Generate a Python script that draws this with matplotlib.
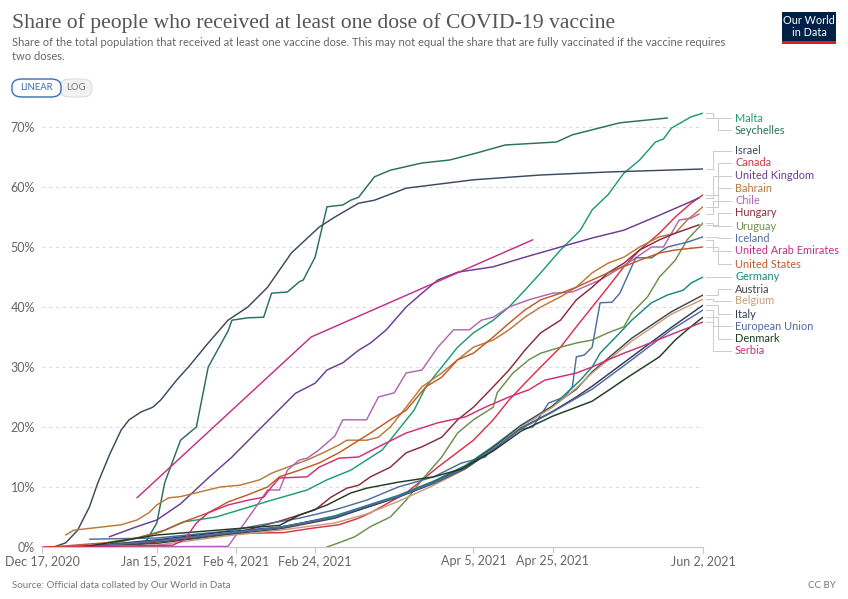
import matplotlib
matplotlib.use("Agg")
import matplotlib.pyplot as plt
import matplotlib.dates as mdates
from matplotlib.patches import FancyBboxPatch, Rectangle
from matplotlib.lines import Line2D
import pandas as pd

# ---------------- data (share of population, %) ----------------
malta = [("2020-12-27", 0), ("2021-01-02", 0.3), ("2021-01-10", 1.5), ("2021-01-17", 2.8), ("2021-01-22", 4.2),
         ("2021-01-30", 5.0), ("2021-02-05", 6.2), ("2021-02-13", 7.8), ("2021-02-22", 9.5), ("2021-02-27", 11.2),
         ("2021-03-02", 12.0), ("2021-03-05", 12.8), ("2021-03-09", 14.5), ("2021-03-13", 16.2), ("2021-03-17", 19.5),
         ("2021-03-21", 22.8), ("2021-03-24", 26.7), ("2021-03-28", 30.0), ("2021-04-01", 33.3), ("2021-04-05", 35.7),
         ("2021-04-10", 37.8), ("2021-04-14", 40.0), ("2021-04-18", 42.8), ("2021-04-22", 45.7), ("2021-04-27", 49.5),
         ("2021-05-02", 52.8), ("2021-05-05", 56.2), ("2021-05-09", 58.7), ("2021-05-13", 62.3), ("2021-05-17", 64.5),
         ("2021-05-21", 67.5), ("2021-05-23", 68.0), ("2021-05-25", 69.8), ("2021-05-30", 71.7), ("2021-06-02", 72.3)]
seychelles = [("2021-01-08", 0), ("2021-01-12", 0.6), ("2021-01-15", 4.0), ("2021-01-17", 10.7), ("2021-01-21", 17.8),
              ("2021-01-25", 20.0), ("2021-01-28", 30.0), ("2021-02-02", 36.0), ("2021-02-03", 37.8), ("2021-02-07", 38.2),
              ("2021-02-11", 38.3), ("2021-02-13", 42.3), ("2021-02-17", 42.5), ("2021-02-20", 44.2), ("2021-02-21", 44.5),
              ("2021-02-24", 48.3), ("2021-02-27", 56.7), ("2021-03-03", 57.0), ("2021-03-05", 57.8), ("2021-03-07", 58.3),
              ("2021-03-11", 61.7), ("2021-03-15", 62.8), ("2021-03-23", 64.0), ("2021-03-30", 64.5), ("2021-04-06", 65.7),
              ("2021-04-13", 67.0), ("2021-04-26", 67.5), ("2021-04-30", 68.7), ("2021-05-12", 70.7), ("2021-05-24", 71.5)]
israel = [("2020-12-20", 0), ("2020-12-23", 0.7), ("2020-12-26", 2.8), ("2020-12-29", 6.7), ("2020-12-31", 10.5),
          ("2021-01-03", 15.3), ("2021-01-06", 19.5), ("2021-01-08", 21.2), ("2021-01-11", 22.5), ("2021-01-14", 23.3),
          ("2021-01-16", 24.5), ("2021-01-20", 27.8), ("2021-01-23", 30.0), ("2021-01-28", 34.0), ("2021-02-02", 37.8),
          ("2021-02-07", 40.0), ("2021-02-12", 43.3), ("2021-02-18", 49.0), ("2021-02-25", 53.3), ("2021-03-01", 55.0),
          ("2021-03-07", 57.3), ("2021-03-11", 57.8), ("2021-03-19", 59.8), ("2021-04-05", 61.2), ("2021-04-22", 62.0),
          ("2021-05-09", 62.5), ("2021-06-02", 63.0)]
canada = [("2020-12-17", 0), ("2021-01-01", 0.3), ("2021-01-15", 1.0), ("2021-02-01", 2.2), ("2021-02-16", 2.4),
          ("2021-02-24", 3.2), ("2021-03-02", 3.7), ("2021-03-07", 4.8), ("2021-03-10", 5.7), ("2021-03-19", 9.0),
          ("2021-03-27", 13.3), ("2021-04-05", 17.8), ("2021-04-10", 21.2), ("2021-04-14", 24.5), ("2021-04-18", 27.3),
          ("2021-04-22", 30.0), ("2021-04-27", 33.3), ("2021-05-01", 36.7), ("2021-05-05", 40.0), ("2021-05-09", 43.3),
          ("2021-05-13", 46.7), ("2021-05-17", 49.5), ("2021-05-22", 52.3), ("2021-05-26", 55.0), ("2021-05-30", 57.3),
          ("2021-06-02", 58.7)]
united_kingdom = [("2021-01-03", 1.7), ("2021-01-10", 3.4), ("2021-01-15", 4.5), ("2021-01-21", 7.2), ("2021-01-28", 11.5),
                  ("2021-02-03", 15.0), ("2021-02-09", 19.0), ("2021-02-14", 22.3), ("2021-02-19", 25.6), ("2021-02-24", 27.3),
                  ("2021-02-27", 29.5), ("2021-03-03", 30.7), ("2021-03-07", 32.8), ("2021-03-10", 34.0), ("2021-03-14", 36.2),
                  ("2021-03-19", 40.0), ("2021-03-23", 42.3), ("2021-03-27", 44.5), ("2021-04-01", 45.8), ("2021-04-10", 46.7),
                  ("2021-04-18", 48.3), ("2021-04-27", 50.0), ("2021-05-05", 51.5), ("2021-05-13", 52.8), ("2021-05-22", 55.3),
                  ("2021-05-29", 57.3), ("2021-06-01", 58.2)]
bahrain = [("2020-12-23", 2.0), ("2020-12-25", 2.8), ("2021-01-02", 3.4), ("2021-01-06", 3.7), ("2021-01-10", 4.5),
           ("2021-01-13", 5.7), ("2021-01-15", 7.0), ("2021-01-18", 8.2), ("2021-01-21", 8.4), ("2021-01-26", 9.2),
           ("2021-01-31", 10.0), ("2021-02-05", 10.3), ("2021-02-10", 11.2), ("2021-02-13", 12.3), ("2021-02-17", 13.3),
           ("2021-02-22", 14.5), ("2021-02-26", 15.7), ("2021-03-02", 17.0), ("2021-03-04", 17.8), ("2021-03-09", 17.8),
           ("2021-03-12", 18.3), ("2021-03-15", 20.0), ("2021-03-19", 23.3), ("2021-03-23", 26.7), ("2021-03-28", 29.0),
           ("2021-04-01", 31.2), ("2021-04-05", 33.3), ("2021-04-10", 34.5), ("2021-04-14", 36.2), ("2021-04-18", 38.3),
           ("2021-04-22", 40.0), ("2021-04-27", 41.7), ("2021-05-01", 43.3), ("2021-05-05", 45.7), ("2021-05-09", 47.3),
           ("2021-05-13", 48.3), ("2021-05-17", 50.0), ("2021-05-22", 51.7), ("2021-05-26", 52.3), ("2021-05-29", 54.5),
           ("2021-06-02", 56.7)]
chile = [("2020-12-24", 0), ("2021-02-02", 0.1), ("2021-02-08", 5.7), ("2021-02-12", 9.5), ("2021-02-15", 9.5),
         ("2021-02-17", 12.8), ("2021-02-20", 14.5), ("2021-02-22", 14.8), ("2021-02-25", 16.2), ("2021-03-01", 18.5),
         ("2021-03-03", 21.2), ("2021-03-09", 21.2), ("2021-03-12", 25.0), ("2021-03-16", 25.7), ("2021-03-19", 29.0),
         ("2021-03-23", 29.5), ("2021-03-27", 33.3), ("2021-03-31", 36.2), ("2021-04-04", 36.2), ("2021-04-07", 37.8),
         ("2021-04-10", 38.3), ("2021-04-14", 40.0), ("2021-04-19", 41.2), ("2021-04-25", 42.3), ("2021-04-30", 42.5),
         ("2021-05-07", 44.5), ("2021-05-14", 47.3), ("2021-05-20", 50.0), ("2021-05-23", 50.0), ("2021-05-27", 54.5),
         ("2021-05-30", 54.8), ("2021-06-01", 55.5)]
hungary = [("2020-12-26", 0), ("2021-01-10", 0.5), ("2021-01-25", 1.5), ("2021-02-05", 2.5), ("2021-02-16", 4.5),
           ("2021-02-24", 6.2), ("2021-02-28", 8.3), ("2021-03-04", 9.8), ("2021-03-07", 10.3), ("2021-03-10", 11.7),
           ("2021-03-15", 13.3), ("2021-03-19", 15.7), ("2021-03-23", 16.7), ("2021-03-28", 18.3), ("2021-04-01", 21.2),
           ("2021-04-05", 23.3), ("2021-04-10", 26.7), ("2021-04-14", 29.5), ("2021-04-18", 32.8), ("2021-04-22", 35.7),
           ("2021-04-27", 37.8), ("2021-05-01", 41.2), ("2021-05-05", 43.3), ("2021-05-09", 45.7), ("2021-05-13", 47.3),
           ("2021-05-17", 49.5), ("2021-05-22", 51.2), ("2021-05-26", 52.3), ("2021-06-01", 53.7)]
uruguay = [("2021-02-27", 0), ("2021-03-02", 0.7), ("2021-03-06", 1.7), ("2021-03-10", 3.4), ("2021-03-15", 5.0),
           ("2021-03-19", 7.8), ("2021-03-23", 11.2), ("2021-03-28", 15.0), ("2021-04-01", 19.0), ("2021-04-05", 21.2),
           ("2021-04-10", 23.3), ("2021-04-11", 25.7), ("2021-04-15", 29.0), ("2021-04-19", 31.2), ("2021-04-22", 32.3),
           ("2021-04-27", 33.3), ("2021-05-01", 34.0), ("2021-05-05", 34.5), ("2021-05-09", 35.7), ("2021-05-13", 36.7),
           ("2021-05-15", 39.0), ("2021-05-19", 41.7), ("2021-05-22", 45.0), ("2021-05-26", 47.8), ("2021-05-29", 51.2),
           ("2021-06-02", 54.0)]
iceland = [("2020-12-29", 1.3), ("2021-01-15", 1.5), ("2021-02-01", 2.6), ("2021-02-20", 4.8), ("2021-03-01", 6.2),
           ("2021-03-09", 7.8), ("2021-03-17", 10.0), ("2021-03-26", 11.7), ("2021-04-02", 14.0), ("2021-04-08", 15.0),
           ("2021-04-10", 16.7), ("2021-04-16", 19.5), ("2021-04-20", 20.0), ("2021-04-24", 24.0), ("2021-04-28", 25.0),
           ("2021-04-30", 26.7), ("2021-05-01", 31.7), ("2021-05-03", 32.0), ("2021-05-05", 33.3), ("2021-05-07", 40.7),
           ("2021-05-10", 40.8), ("2021-05-12", 42.3), ("2021-05-16", 48.2), ("2021-05-20", 48.2), ("2021-05-24", 50.0),
           ("2021-05-29", 50.8), ("2021-06-02", 51.7)]
uae = [("2021-01-10", 8.2), ("2021-02-23", 35.0), ("2021-04-20", 51.2)]
united_states = [("2020-12-20", 0), ("2020-12-25", 0.3), ("2021-01-02", 0.7), ("2021-01-10", 1.5), ("2021-01-16", 2.5),
                 ("2021-01-21", 4.0), ("2021-01-28", 5.7), ("2021-02-02", 7.5), ("2021-02-07", 8.7), ("2021-02-12", 10.0),
                 ("2021-02-15", 11.7), ("2021-02-20", 12.8), ("2021-02-25", 14.0), ("2021-03-02", 15.7), ("2021-03-10", 19.0),
                 ("2021-03-15", 21.2), ("2021-03-19", 22.8), ("2021-03-24", 26.7), ("2021-03-28", 28.3), ("2021-04-01", 31.2),
                 ("2021-04-05", 32.3), ("2021-04-10", 35.0), ("2021-04-14", 37.3), ("2021-04-18", 39.5), ("2021-04-22", 41.2),
                 ("2021-04-27", 42.3), ("2021-05-01", 43.3), ("2021-05-09", 45.7), ("2021-05-17", 47.8), ("2021-05-22", 49.0),
                 ("2021-05-26", 49.5), ("2021-06-02", 50.0)]
germany = [("2020-12-27", 0), ("2021-01-01", 0.2), ("2021-01-15", 1.0), ("2021-02-01", 2.2), ("2021-02-15", 3.2),
           ("2021-03-01", 5.2), ("2021-03-09", 6.9), ("2021-03-17", 8.6), ("2021-03-26", 11.0), ("2021-04-03", 13.6),
           ("2021-04-10", 16.8), ("2021-04-17", 20.3), ("2021-04-25", 23.5), ("2021-05-02", 27.8), ("2021-05-05", 30.0),
           ("2021-05-07", 32.3), ("2021-05-12", 35.7), ("2021-05-15", 37.8), ("2021-05-20", 40.7), ("2021-05-24", 42.0),
           ("2021-05-28", 42.8), ("2021-05-30", 44.0), ("2021-06-02", 45.0)]
austria = [("2020-12-27", 0), ("2021-01-15", 0.6), ("2021-02-01", 2.0), ("2021-02-15", 3.0), ("2021-03-01", 4.8),
           ("2021-03-09", 6.6), ("2021-03-17", 8.4), ("2021-03-26", 10.8), ("2021-04-03", 13.4), ("2021-04-10", 16.6),
           ("2021-04-17", 20.2), ("2021-04-25", 23.5), ("2021-05-01", 26.3), ("2021-05-05", 29.2), ("2021-05-15", 34.8),
           ("2021-05-25", 39.2), ("2021-06-02", 42.0)]
belgium = [("2020-12-28", 0), ("2021-01-15", 0.3), ("2021-02-01", 1.8), ("2021-02-15", 2.8), ("2021-03-01", 4.0),
           ("2021-03-09", 5.5), ("2021-03-17", 7.6), ("2021-03-26", 10.3), ("2021-04-03", 13.0), ("2021-04-10", 16.3),
           ("2021-04-17", 20.0), ("2021-04-25", 23.3), ("2021-05-01", 26.5), ("2021-05-05", 29.0), ("2021-05-15", 34.3),
           ("2021-05-25", 38.8), ("2021-06-02", 41.3)]
italy = [("2020-12-27", 0), ("2021-01-15", 1.2), ("2021-02-01", 2.5), ("2021-02-15", 3.3), ("2021-03-01", 5.0),
         ("2021-03-09", 6.6), ("2021-03-17", 8.3), ("2021-03-26", 10.6), ("2021-04-03", 13.1), ("2021-04-10", 16.2),
         ("2021-04-17", 19.8), ("2021-04-25", 22.6), ("2021-05-01", 25.0), ("2021-05-05", 26.8), ("2021-05-15", 31.7),
         ("2021-05-25", 36.6), ("2021-06-02", 40.3)]
european_union = [("2020-12-27", 0), ("2021-01-15", 1.0), ("2021-02-01", 2.3), ("2021-02-15", 3.3), ("2021-03-01", 5.0),
                  ("2021-03-09", 6.8), ("2021-03-17", 8.4), ("2021-03-26", 10.7), ("2021-04-03", 13.2), ("2021-04-10", 16.3),
                  ("2021-04-17", 19.7), ("2021-04-25", 22.5), ("2021-05-01", 24.8), ("2021-05-05", 26.3), ("2021-05-15", 31.2),
                  ("2021-05-25", 36.2), ("2021-06-02", 39.5)]
denmark = [("2020-12-27", 0), ("2021-01-01", 0.5), ("2021-01-15", 2.0), ("2021-02-01", 2.9), ("2021-02-15", 3.6),
           ("2021-02-20", 5.3), ("2021-02-27", 7.0), ("2021-03-05", 9.0), ("2021-03-09", 9.8), ("2021-03-17", 10.8),
           ("2021-03-26", 11.7), ("2021-04-02", 13.0), ("2021-04-10", 16.0), ("2021-04-17", 19.3), ("2021-04-25", 21.8),
           ("2021-05-05", 24.3), ("2021-05-10", 26.5), ("2021-05-14", 28.3), ("2021-05-18", 30.0), ("2021-05-22", 31.7),
           ("2021-05-26", 34.5), ("2021-05-29", 36.2), ("2021-06-01", 37.8), ("2021-06-02", 38.3)]
serbia = [("2020-12-24", 0), ("2021-01-19", 0.3), ("2021-01-22", 1.2), ("2021-01-25", 4.0), ("2021-01-28", 5.7),
          ("2021-02-02", 7.0), ("2021-02-07", 7.8), ("2021-02-11", 8.3), ("2021-02-13", 10.0), ("2021-02-15", 11.5),
          ("2021-02-22", 11.7), ("2021-02-25", 13.3), ("2021-03-02", 14.8), ("2021-03-07", 15.0), ("2021-03-12", 16.7),
          ("2021-03-19", 19.0), ("2021-03-27", 20.7), ("2021-04-03", 21.7), ("2021-04-08", 23.3), ("2021-04-14", 25.0),
          ("2021-04-19", 26.2), ("2021-04-23", 27.8), ("2021-05-01", 29.0), ("2021-05-05", 30.0), ("2021-05-09", 31.2),
          ("2021-05-13", 32.3), ("2021-05-17", 33.3), ("2021-05-26", 35.7), ("2021-06-02", 37.5)]

names = ["Malta", "Seychelles", "Israel", "Canada", "United Kingdom", "Bahrain", "Chile", "Hungary", "Uruguay",
         "Iceland", "United Arab Emirates", "United States", "Germany", "Austria", "Belgium", "Italy",
         "European Union", "Denmark", "Serbia"]
data = [malta, seychelles, israel, canada, united_kingdom, bahrain, chile, hungary, uruguay,
        iceland, uae, united_states, germany, austria, belgium, italy, european_union, denmark, serbia]
colors = ["#1f9c74", "#2b6e60", "#3b4a5e", "#d8334a", "#6b3d92", "#b9793a", "#b066b2", "#8a2c3c", "#6d8f4c",
          "#4e6e9e", "#c42f87", "#c25a27", "#178a80", "#45474f", "#c7a07a", "#2f3d54", "#4f6aa6", "#1e3d22", "#cf2f75"]

x_ticks = ["2020-12-17", "2021-01-15", "2021-02-04", "2021-02-24", "2021-04-05", "2021-04-25", "2021-06-02"]
y_ticks = [0, 10, 20, 30, 40, 50, 60, 70]

# ---------------- layout ----------------
W, H = 848, 599
fig = plt.figure(figsize=(W / 100, H / 100), dpi=100)
plt.rcParams['font.family'] = ['Lato', 'DejaVu Sans']

def fx(px):
    return px / W

def fy(py):
    return 1 - py / H

ax = fig.add_axes([fx(42), fy(547), fx(703) - fx(42), fy(112) - fy(547)])

for name, series, col in zip(names, data, colors):
    d = pd.to_datetime([p[0] for p in series])
    v = [p[1] for p in series]
    ax.plot(d, v, color=col, lw=1.05, solid_joinstyle='round', solid_capstyle='round', zorder=3)

ax.set_xlim(pd.Timestamp("2020-12-17"), pd.Timestamp("2021-06-02"))
ax.set_ylim(0, 72.5)
ax.set_yticks(y_ticks)
ax.set_yticklabels([f"{t}%" for t in y_ticks])
xt = pd.to_datetime(x_ticks)
ax.set_xticks(xt)
ax.set_xticklabels([f"{t.strftime('%b')} {t.day}, {t.year}" for t in xt])

for s in ["top", "right", "left"]:
    ax.spines[s].set_visible(False)
ax.spines["bottom"].set_color("#c8c8c8")
ax.spines["bottom"].set_linewidth(0.8)
ax.tick_params(axis="y", length=0, pad=5, labelsize=9, labelcolor="#666666")
ax.tick_params(axis="x", length=4, width=0.8, color="#c8c8c8", pad=2, labelsize=9, labelcolor="#666666")
ax.yaxis.grid(True, color="#dddddd", lw=0.8, linestyle=(0, (3, 3)))
ax.set_axisbelow(True)
ax.patch.set_alpha(0)

# ---------------- labels at right with connectors ----------------
label_y = [118, 130, 151, 163, 176, 188, 201, 213, 226, 238, 251, 264, 277, 289, 301, 314, 326, 339, 351]
fig.canvas.draw()
for i, (name, series, col) in enumerate(zip(names, data, colors)):
    last = series[-1]
    disp = ax.transData.transform((mdates.date2num(pd.Timestamp(last[0])), last[1]))
    y_end = H - disp[1]
    ly = label_y[i]
    xm = 713 if i % 2 == 0 else 718
    xs = [fx(706), fx(xm), fx(xm), fx(731)]
    ys = [fy(y_end), fy(y_end), fy(ly), fy(ly)]
    fig.add_artist(Line2D(xs, ys, color="#cccccc", lw=0.7, transform=fig.transFigure))
    fig.text(fx(735), fy(ly), name, color=col, fontsize=7.9, va="center", ha="left")

# ---------------- header ----------------
fig.text(fx(12), fy(23), "Share of people who received at least one dose of COVID-19 vaccine",
         family=["Liberation Serif", "DejaVu Serif"], fontsize=15.6, color="#555555", va="center", ha="left")
fig.text(fx(12), fy(43), "Share of the total population that received at least one vaccine dose. This may not equal the share that are fully vaccinated if the vaccine requires",
         fontsize=8.05, color="#666666", va="center", ha="left")
fig.text(fx(12), fy(56.5), "two doses.", fontsize=8.05, color="#666666", va="center", ha="left")

# LINEAR / LOG toggle
fig.add_artist(FancyBboxPatch((fx(60), fy(97)), fx(92) - fx(60), fy(79) - fy(97),
                              boxstyle="round,pad=0,rounding_size=0.012", transform=fig.transFigure,
                              facecolor="#f2f2f2", edgecolor="#dddddd", lw=0.8))
fig.add_artist(FancyBboxPatch((fx(12), fy(97)), fx(61) - fx(12), fy(79) - fy(97),
                              boxstyle="round,pad=0,rounding_size=0.012", transform=fig.transFigure,
                              facecolor="white", edgecolor="#3a6db3", lw=1.0))
fig.text(fx(36.5), fy(88), "LINEAR", fontsize=6.8, color="#3a6db3", ha="center", va="center")
fig.text(fx(76), fy(88), "LOG", fontsize=6.8, color="#777777", ha="center", va="center")

# logo
fig.add_artist(Rectangle((fx(782), fy(44)), fx(836) - fx(782), fy(12) - fy(44), transform=fig.transFigure,
                         facecolor="#002147", edgecolor="none"))
fig.add_artist(Rectangle((fx(782), fy(44)), fx(836) - fx(782), fy(41) - fy(44), transform=fig.transFigure,
                         facecolor="#ce261e", edgecolor="none"))
fig.text(fx(809), fy(21), "Our World", fontsize=7.8, color="white", ha="center", va="center")
fig.text(fx(809), fy(32), "in Data", fontsize=7.8, color="white", ha="center", va="center")

# footer
fig.text(fx(12), fy(586), "Source: Official data collated by Our World in Data", fontsize=7, color="#777777",
         ha="left", va="center")
fig.text(fx(836), fy(586), "CC BY", fontsize=7, color="#777777", ha="right", va="center")

fig.savefig("out.png", dpi=100)
